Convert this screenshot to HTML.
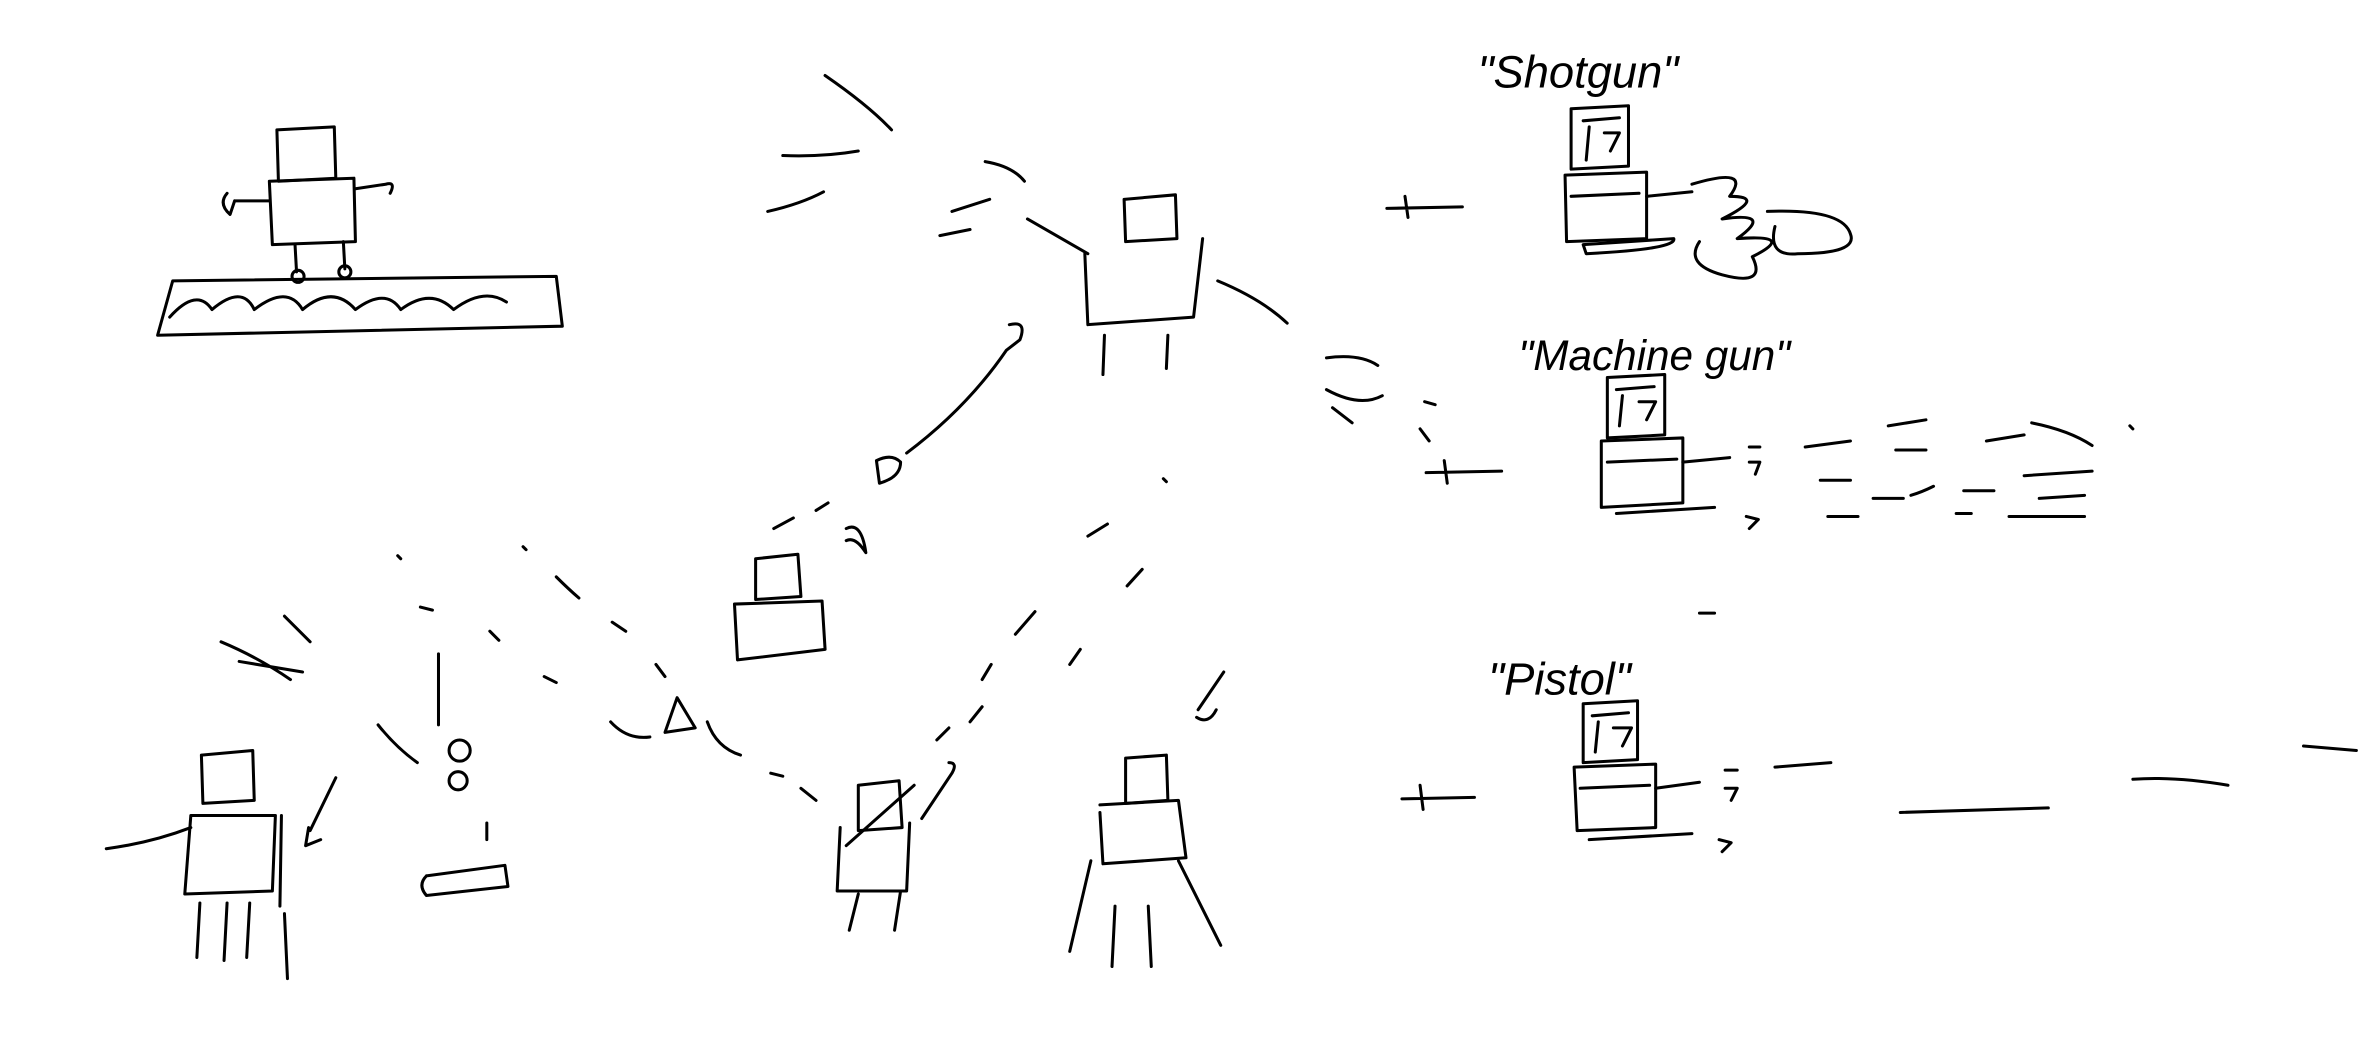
<!DOCTYPE html>
<html><head><meta charset="utf-8"><style>
html,body{margin:0;padding:0;background:#fff;width:2369px;height:1042px;overflow:hidden}
svg{display:block}
text{font-family:"Liberation Sans",sans-serif;fill:#000}
</style></head><body>
<svg width="2369" height="1042" viewBox="0 0 1568 690" xmlns="http://www.w3.org/2000/svg">
<g fill="none" stroke="#000" stroke-width="2" stroke-linecap="round" stroke-linejoin="round">
<!-- top-left robot on platform -->
<path d="M183 86 L221 84 L222 118 L184 120 Z"/>
<path d="M178 120 L234 118 L235 160 L180 162 Z"/>
<path d="M178 133 L155 133 M150 128 Q144 135 152 142 L155 133"/>
<path d="M235 125 L255 122 Q262 120 258 128"/>
<path d="M195 162 L196 180 M227 160 L228 178"/>
<circle cx="197" cy="183" r="4"/><circle cx="228" cy="180" r="4"/>
<path d="M114 186 L368 183 L372 216 L104 222 Z"/>
<path d="M112 210 Q130 190 140 205 Q160 188 168 205 Q190 188 200 205 Q220 188 235 205 Q255 190 265 205 Q285 190 300 205 Q320 190 335 200"/>
<!-- top center robot -->
<path d="M744 132 L778 129 L779 158 L745 160 Z"/>
<path d="M718 168 L720 215 L790 210 L796 158"/>
<path d="M720 168 L680 145"/>
<path d="M731 222 L730 248 M773 222 L772 244"/>
<path d="M806 186 Q835 198 852 214"/>
<path d="M546 50 Q575 70 590 86 M518 103 Q545 104 568 100 M508 140 Q530 135 545 127 M630 140 L655 132 M622 156 L642 152 M652 107 Q670 110 678 120"/>
<path d="M878 237 Q900 234 912 242 M878 258 Q900 270 915 262 M882 270 L895 280 M943 266 L950 268 M940 284 L946 292"/>
<!-- arrow to lower left -->
<path d="M668 215 Q680 212 675 225 L666 232 M666 232 Q640 270 600 300"/>
<path d="M580 305 Q590 300 596 306 Q596 316 582 320 Z"/>
<path d="M512 350 L525 343 M540 338 L548 333 M560 350 Q570 345 573 366 Q566 355 560 358"/>
<!-- middle left robot -->
<path d="M500 370 L528 367 L530 395 L500 397 Z"/>
<path d="M486 400 L544 398 L546 430 L488 437 Z"/>
<!-- dashes path -->
<path d="M263 368 L265 370 M346 362 L348 364 M368 382 Q376 390 383 396 M278 402 L286 404 M324 418 L330 424 M360 448 L368 452 M405 412 L414 418 M434 440 L440 448 M404 478 Q415 490 430 488"/>
<path d="M440 485 L448 462 L460 482 Z"/>
<path d="M468 478 Q474 495 490 500 M510 512 L518 514"/>
<!-- bottom-left figures -->
<path d="M146 425 Q170 435 192 450 M158 438 L200 445 M188 408 L205 425"/>
<path d="M133 500 L167 497 L168 530 L134 532 Z"/>
<path d="M126 540 L122 592 L180 590 L182 540 Z"/>
<path d="M126 548 Q100 558 70 562"/>
<path d="M132 598 L130 634 M150 598 L148 636 M165 598 L163 634"/>
<path d="M186 540 L185 600 M188 605 L190 648 M222 515 L205 550 M204 548 L202 560 L212 556"/>
<path d="M290 433 L290 480 M250 480 Q262 495 276 505"/>
<circle cx="304" cy="497" r="7"/><circle cx="303" cy="517" r="6"/>
<path d="M322 545 L322 556 M282 580 L334 573 L336 587 L282 593 Q276 586 282 580"/>
<!-- center bottom robot -->
<path d="M568 520 L595 517 L597 548 L568 550 Z"/>
<path d="M556 548 L554 590 L600 590 L602 545"/>
<path d="M568 592 L562 616 M596 590 L592 616"/>
<path d="M560 560 L605 520 M610 542 L630 512 Q634 505 628 505"/>
<path d="M620 490 L628 482 M642 478 L650 468 M650 450 L656 440 M672 420 L685 405 M708 440 L715 430 M720 355 L733 347 M746 388 L756 377 M770 317 L772 319 M530 522 L540 530"/>
<!-- bottom robot 2 -->
<path d="M745 502 L772 500 L773 530 L745 532 Z"/>
<path d="M728 538 L730 572 L785 568 L780 530 L728 533"/>
<path d="M722 570 L708 630 M738 600 L736 640 M760 600 L762 640 M780 570 L808 626"/>
<path d="M793 470 L810 445 M792 475 Q800 480 805 470"/>
<!-- weapon rows -->
<g id="gun">
</g>
<path d="M918 138 L968 137 M930 130 L932 144"/>
<path d="M944 313 L994 312 M956 305 L958 320"/>
<path d="M928 529 L976 528 M940 520 L942 536"/>
<!-- shotgun robot -->
<path d="M1040 72 L1078 70 L1078 110 L1040 112 Z M1048 80 L1072 78 M1052 84 L1050 106 M1062 88 L1072 88 L1066 100"/>
<path d="M1036 116 L1090 114 L1090 158 L1037 160 Z"/>
<path d="M1040 130 L1085 128 M1090 130 L1120 127 M1048 162 L1108 158 Q1110 165 1050 168 Z"/>
<path d="M1120 122 Q1160 110 1145 130 Q1170 130 1140 145 Q1175 140 1150 158 Q1190 155 1160 170 Q1170 190 1140 182 Q1115 175 1125 160 M1170 140 Q1220 138 1225 155 Q1230 168 1190 168 Q1170 170 1175 150"/>
<!-- machine gun robot -->
<path d="M1064 250 L1102 248 L1102 288 L1064 290 Z M1070 258 L1095 256 M1074 262 L1072 282 M1085 266 L1096 266 L1090 278"/>
<path d="M1060 292 L1114 290 L1114 333 L1060 336 Z"/>
<path d="M1064 306 L1110 304 M1114 306 L1145 303 M1070 340 L1135 336 M1158 296 L1165 296 M1158 306 L1165 306 L1162 314 M1156 342 L1164 344 L1158 350"/>
<path d="M1195 296 L1225 292 M1250 282 L1275 278 M1255 298 L1275 298 M1315 292 L1340 288 M1345 280 Q1370 285 1385 295 M1205 318 L1225 318 M1240 330 L1260 330 M1300 325 L1320 325 M1340 315 L1385 312 M1350 330 L1380 328 M1210 342 L1230 342 M1265 328 Q1272 326 1280 322 M1295 340 L1305 340 M1330 342 L1380 342 M1410 282 L1412 284"/>
<!-- pistol robot -->
<path d="M1048 466 L1084 464 L1084 503 L1048 505 Z M1054 474 L1078 472 M1058 478 L1056 498 M1068 482 L1080 482 L1074 494"/>
<path d="M1042 508 L1096 506 L1096 548 L1044 550 Z"/>
<path d="M1046 522 L1092 520 M1096 522 L1125 518 M1052 556 L1120 552 M1142 510 L1150 510 M1142 522 L1150 522 L1146 530 M1138 556 L1146 558 L1140 564"/>
<path d="M1175 508 L1212 505 M1258 538 L1356 535 M1412 516 Q1440 514 1475 520 M1525 494 L1560 497 M1125 406 L1135 406"/>
</g>
<text x="978" y="58" font-size="30" font-style="italic">"Shotgun"</text>
<text x="1005" y="245" font-size="28" font-style="italic">"Machine gun"</text>
<text x="985" y="460" font-size="30" font-style="italic">"Pistol"</text>
</svg>
</body></html>
